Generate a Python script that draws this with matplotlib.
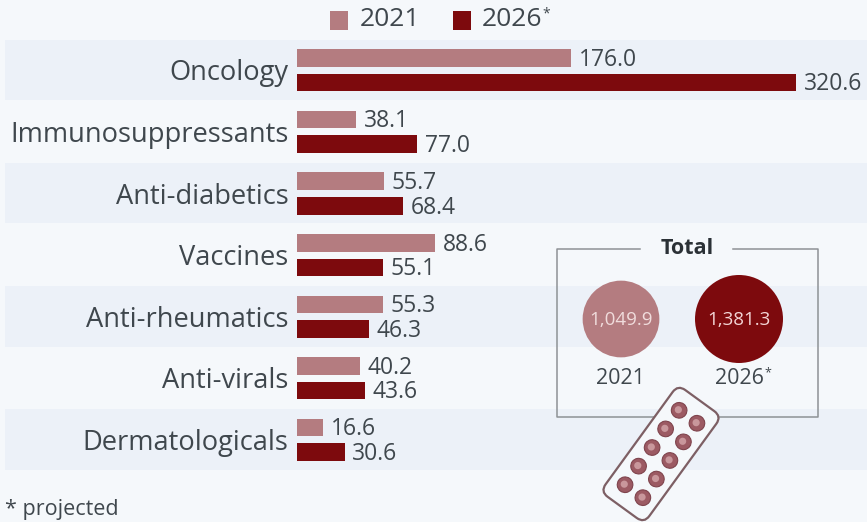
# -*- coding: utf-8 -*-
import numpy as np
import matplotlib
matplotlib.use('Agg')
import matplotlib.pyplot as plt
from matplotlib.patches import Circle, FancyBboxPatch, Rectangle
from matplotlib.transforms import Affine2D

categories = ['Oncology', 'Immunosuppressants', 'Anti-diabetics', 'Vaccines',
              'Anti-rheumatics', 'Anti-virals', 'Dermatologicals']
values2021 = [176.0, 38.1, 55.7, 88.6, 55.3, 40.2, 16.6]
values2026 = [320.6, 77.0, 68.4, 55.1, 46.3, 43.6, 30.6]
totalYears = ['2021', '2026']
totals = [1049.9, 1381.3]

W, H = 867, 522
bgColor = '#f5f8fb'
bandColor = '#ecf1f8'
lightRed = '#b47c80'
darkRed = '#7d0a0d'
textColor = '#3f474d'

plt.rcParams['font.family'] = ['Open Sans', 'DejaVu Sans']

figure = plt.figure(figsize=(W / 100, H / 100), dpi=100, facecolor=bgColor)

# full-figure axes in pixels for bands, box and icon
canvas = figure.add_axes([0, 0, 1, 1], zorder=0)
canvas.set_xlim(0, W)
canvas.set_ylim(H, 0)
canvas.axis('off')

# bar axes: zero sits at x=297, rows are 61.6 px apart
rowStep = 61.6
axTop = 39.5
axBottom = axTop + rowStep * 7
ax = figure.add_axes([297 / W, 1 - axBottom / H, (W - 297) / W, (axBottom - axTop) / H], zorder=1)
ax.patch.set_alpha(0)
ax.set_xlim(0, (W - 297) / 1.5565)
ax.set_ylim(6.5, -0.5)
ax.axis('off')

y = np.arange(len(categories))
for i in y[::2]:
    canvas.add_patch(Rectangle((5, axTop + i * rowStep), W - 5, rowStep - 1, color=bandColor, lw=0))

barHeight = 0.285
offset = 0.2
ax.barh(y - offset, values2021, barHeight, color=lightRed)
ax.barh(y + offset, values2026, barHeight, color=darkRed)

for i in y:
    ax.text(values2021[i] + 5, i - offset + 0.03, '%.1f' % values2021[i], va='center', ha='left',
            fontsize=16.5, color=textColor)
    ax.text(values2026[i] + 5, i + offset + 0.03, '%.1f' % values2026[i], va='center', ha='left',
            fontsize=16.5, color=textColor)
    ax.annotate(categories[i], (0, i + 0.05), xytext=(-6, 0), textcoords='offset points', va='center', ha='right',
                fontsize=19.6, color=textColor, annotation_clip=False)

# legend
canvas.add_patch(Rectangle((330, 11), 18, 19, color=lightRed, lw=0))
canvas.text(360, 20, '2021', fontsize=19, color=textColor, va='center', ha='left')
canvas.add_patch(Rectangle((453, 11), 18, 19, color=darkRed, lw=0))
canvas.text(482, 20, '2026', fontsize=19, color=textColor, va='center', ha='left')
canvas.text(542, 14, '*', fontsize=10, color=textColor, va='center', ha='left')

# total box with a gap in the top edge for its title
boxColor = '#8e9296'
canvas.plot([640, 557, 557, 818, 818, 733], [249, 249, 417, 417, 249, 249], color=boxColor, lw=1.1)
canvas.text(687, 248, 'Total', fontsize=15.5, fontweight='bold', color='#2b3136', va='center', ha='center')

# circle area follows the total
radii = 44 * np.sqrt(np.array(totals) / totals[1])
centers = [621, 739]
circleColors = [lightRed, darkRed]
labelColors = ['#f0dcdc', '#f3d5d5']
for i in range(2):
    canvas.add_patch(Circle((centers[i], 319), radii[i], color=circleColors[i], lw=0, zorder=2))
    canvas.text(centers[i], 320, format(totals[i], ',.1f'), fontsize=13.5, color=labelColors[i],
                va='center', ha='center', zorder=3)
    canvas.text(centers[i] + i - 1, 379, totalYears[i], fontsize=15.5, color=textColor,
                va='center', ha='center')
canvas.text(768, 373, '*', fontsize=9, color=textColor, va='center', ha='center')

# blister pack icon, rotated about its own center
iconX, iconY = 661, 454
rot = Affine2D().rotate_deg_around(iconX, iconY, -54) + canvas.transData
canvas.add_patch(FancyBboxPatch((iconX - 66, iconY - 27), 132, 54, boxstyle='round,pad=0,rounding_size=9',
                                facecolor=bgColor, edgecolor='#7d5f64', lw=1.6, transform=rot, zorder=4))
for col in range(5):
    for row in range(2):
        px = iconX - 46 + col * 23
        py = iconY - 11 + row * 22
        canvas.add_patch(Circle((px, py), 7.8, facecolor='#9c5a63', edgecolor='#7f444d', lw=0.8,
                                transform=rot, zorder=5))
        canvas.add_patch(Circle((px, py - 1), 3.6, facecolor='#c9979c', lw=0, transform=rot, zorder=6))

canvas.text(5, 509, '* projected', fontsize=15.5, color=textColor, va='center', ha='left')

figure.savefig('out.png', dpi=100, facecolor=bgColor)
